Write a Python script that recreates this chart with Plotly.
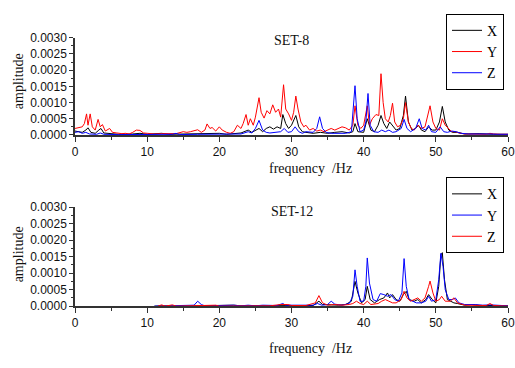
import plotly.graph_objects as go

# ---------------- data (amplitudes in units of 1e-4) ----------------
# SET-8
s8_x_f = [0, 0.5, 1.0, 1.5, 1.8, 2.2, 2.8, 3.3, 3.6, 4.0, 5, 6, 8, 9, 10, 12, 13, 15, 17, 18.5, 20, 21, 23, 24, 24.5,
          25.5, 26, 26.5, 27, 27.5, 28, 28.5, 28.8, 29.2, 29.6, 30, 30.6, 31, 31.5, 32, 33, 34, 35, 36, 37, 38, 38.5,
          38.8, 39.2, 40, 40.5, 41, 41.5, 42, 42.4, 42.8, 43.2, 43.6, 44, 44.5, 45, 45.5, 45.8, 46.2, 46.7, 47.2, 47.6,
          48, 48.5, 49, 49.5, 50, 50.5, 50.9, 51.3, 51.8, 52.3, 53, 54, 56, 58, 60]
s8_x_a = [1.2, 1.0, 0.8, 1.5, 2.2, 0.8, 0.5, 1.5, 2.0, 0.6, 0.3, 0.2, 0.3, 0.5, 0.2, 0.5, 0.2, 0.3, 0.4, 0.6, 0.5, 0.2, 0.6, 1.5, 0.8,
          2.0, 1.0, 2.0, 2.5, 1.8, 2.5, 2.0, 6.3, 3.5, 2.0, 3.0, 6.0, 2.5, 1.0, 0.8, 0.5, 0.8, 0.5, 0.8, 1.0, 0.6, 1.0,
          3.5, 1.0, 0.8, 5.0, 1.5, 1.0, 3.0, 6.0, 3.5, 2.0, 4.0, 3.0, 1.5, 2.0, 6.0, 12.0, 4.0, 1.5, 2.0, 3.0,
          1.5, 1.0, 2.5, 1.5, 1.5, 4.0, 8.8, 4.0, 1.5, 0.8, 0.8, 0.3, 0.4, 0.2, 0.2]

s8_y_f = [0, 0.5, 1.0, 1.3, 1.6, 1.8, 2.1, 2.4, 2.8, 3.2, 3.5, 3.8, 4.2, 4.8, 5.2, 5.8, 6.5, 7.0, 7.5, 8.0, 8.5, 9.0, 9.5,
          10.0, 11, 12, 13, 14, 15, 15.5, 16, 16.5, 17, 17.5, 18, 18.3, 18.7, 19, 19.5, 20, 20.4, 21, 21.5, 22, 22.5,
          23, 23.3, 23.7, 24, 24.3, 24.7, 25, 25.5, 25.8, 26.2, 26.6, 27, 27.4, 27.8, 28.2, 28.5, 28.9, 29.2, 29.6,
          30, 30.3, 30.6, 30.9, 31.3, 31.7, 32, 32.5, 33, 33.5, 34, 34.5, 35, 35.5, 36, 36.5, 37, 37.5, 38, 38.5,
          38.8, 39.2, 39.6, 40, 40.5, 40.8, 41.2, 41.7, 42.1, 42.4, 42.7, 43.0, 43.4, 43.7, 44.0, 44.3, 44.7, 45.1,
          45.5, 45.8, 46.2, 46.6, 47.0, 47.5, 48.0, 48.5, 48.9, 49.2, 49.6, 50, 50.5, 50.9, 51.3, 51.7, 52.2, 52.7,
          53.2, 54, 55, 56, 57, 57.5, 58, 59, 60]
s8_y_a = [2.0, 2.2, 2.5, 3.5, 6.5, 3.0, 6.5, 2.5, 1.5, 4.8, 2.5, 3.2, 1.2, 2.0, 0.8, 0.6, 0.4, 0.5, 0.3, 0.8, 1.5, 1.4, 0.6,
          0.5, 0.3, 0.4, 0.3, 0.4, 1.0, 0.8, 1.0, 1.2, 1.6, 0.8, 1.5, 3.4, 2.0, 2.3, 1.2, 2.5, 1.5, 0.8, 0.5, 1.0, 3.0,
          2.0, 3.5, 6.3, 3.0, 5.0, 3.0, 5.5, 11.5, 7.0, 5.2, 7.5, 6.5, 9.3, 7.0, 8.0, 5.5, 15.5, 8.0, 6.5,
          4.5, 7.0, 12.0, 8.0, 4.0, 2.5, 3.0, 1.5, 2.0, 1.2, 1.5, 1.0, 1.5, 2.0, 1.5, 2.0, 2.5, 2.2, 1.5, 3.0,
          9.0, 3.0, 2.0, 3.0, 9.0, 3.0, 5.0, 6.3, 6.0, 18.9, 10.0, 5.0, 4.0, 6.0, 9.8, 4.0, 2.5, 3.0,
          5.0, 10.0, 4.0, 2.0, 1.5, 3.0, 2.0, 2.5, 6.0, 9.0, 4.0, 2.0, 1.5, 5.0, 3.0, 2.0, 1.0, 1.0,
          0.6, 0.3, 0.3, 0.4, 0.2, 0.5, 0.3, 0.2, 0.2]

s8_z_f = [0, 0.5, 1.0, 1.5, 2.0, 3, 3.5, 4, 6, 10, 13.5, 14, 14.5, 17, 20, 23, 24, 24.5, 25, 25.5, 26, 26.5, 27, 28,
          28.5, 29, 29.5, 30, 30.5, 31, 31.5, 32, 33, 33.5, 33.9, 34.3, 34.8, 35.5, 36.5, 37.5, 38.3, 38.8, 39.1,
          39.5, 40, 40.3, 40.6, 40.9, 41.4, 42, 42.5, 43, 43.5, 44, 44.5, 45.2, 45.6, 46, 46.5, 47.2, 47.7, 48.1,
          48.6, 49, 49.4, 50, 50.6, 51.1, 51.6, 52.2, 52.8, 53.5, 54.5, 56, 57.5, 58.5, 60]
s8_z_a = [0.8, 1.0, 0.5, 0.8, 0.3, 0.2, 0.6, 0.2, 0.1, 0.1, 0.2, 0.5, 0.1, 0.2, 0.2, 0.3, 1.0, 0.6, 2.0, 4.5, 1.5, 0.8, 0.6, 0.8,
          1.0, 2.0, 0.8, 1.0, 2.5, 1.0, 0.5, 1.0, 0.8, 2.0, 5.6, 2.0, 0.8, 0.5, 0.6, 0.5, 1.0, 15.2, 5.0,
          1.0, 1.5, 4.0, 12.8, 3.0, 1.0, 0.8, 1.5, 1.0, 1.5, 0.8, 1.0, 2.0, 4.8, 2.0, 1.0, 2.0, 5.0, 2.0,
          1.5, 3.0, 1.0, 0.8, 2.5, 1.0, 0.8, 1.2, 1.0, 0.5, 0.3, 0.4, 0.3, 0.2, 0.2]

# SET-12
s12_x_f = [11, 12, 14, 18.5, 19, 21, 22, 23, 25, 27, 29, 30, 33, 33.8, 34.3, 35.5, 36.5, 37.5, 38.3, 38.8, 39.2, 39.7,
           40.2, 40.5, 40.9, 41.5, 42.2, 42.8, 43.3, 43.6, 44, 44.5, 45, 45.5, 45.9, 46.3, 47, 47.5, 48, 48.6, 49,
           49.5, 50, 50.4, 50.7, 50.9, 51.2, 51.6, 52, 52.5, 53, 54, 55, 56, 58, 60]
s12_x_a = [0.0, 0.1, 0.0, 0.2, 0.0, 0.2, 0.3, 0.1, 0.1, 0.1, 0.2, 0.1, 0.2, 1.5, 0.5, 0.4, 0.3, 0.5, 1.5, 7.5, 4.0, 1.0,
           2.0, 6.0, 2.0, 1.0, 2.0, 2.5, 4.0, 2.5, 3.5, 2.0, 1.5, 3.5, 4.5, 2.0, 1.5, 2.0, 1.0, 2.0, 3.5,
           2.0, 1.0, 6.0, 15.5, 16.2, 8.0, 2.0, 1.5, 1.0, 0.8, 0.3, 0.5, 0.2, 0.2, 0.1]

s12_y_f = [11, 15, 16.5, 17, 17.5, 18, 19.5, 21, 22, 23, 24, 25, 26, 28, 28.8, 29.2, 31, 33, 33.6, 34.2, 35, 35.5, 36,
           37, 38, 38.5, 38.8, 39.1, 39.5, 40, 40.3, 40.5, 40.8, 41.3, 41.8, 42.3, 42.8, 43.3, 43.8, 44.3, 44.8,
           45.3, 45.6, 45.9, 46.3, 46.8, 47.3, 48, 48.6, 49, 49.4, 50, 50.4, 50.7, 51, 51.3, 51.8, 52.3, 52.7,
           53.2, 54, 55.5, 56.5, 57.5, 58.5, 60]
s12_y_a = [0.0, 0.2, 0.3, 1.5, 0.5, 0.1, 0.2, 0.1, 0.3, 0.1, 0.3, 0.1, 0.3, 0.2, 0.8, 0.3, 0.2, 0.3, 0.8, 0.3, 0.5, 1.5, 0.6,
           0.3, 0.8, 3.0, 11.0, 6.0, 1.5, 1.5, 6.0, 14.6, 7.0, 2.0, 1.5, 3.8, 3.5, 3.0, 3.5, 2.0, 1.5,
           4.0, 14.4, 6.0, 2.0, 1.5, 1.0, 1.0, 1.5, 3.0, 1.5, 2.0, 8.0, 16.0, 12.0, 5.0, 2.0, 2.0, 2.5,
           1.0, 0.5, 0.5, 0.3, 0.4, 0.2, 0.1]

s12_z_f = [11.5, 12, 12.5, 13.5, 14, 18.5, 19.5, 20, 27, 28.5, 29.5, 30, 31, 32, 33.3, 33.8, 34.3, 35, 36, 37, 38, 38.5,
           39, 39.5, 40, 40.5, 41, 42, 42.5, 43, 43.5, 44, 44.5, 45.2, 45.6, 46, 46.5, 47, 47.5, 48, 48.5, 49,
           49.2, 49.6, 50, 50.5, 50.8, 51.3, 52, 52.5, 53, 54, 55, 56, 57, 57.5, 58, 59, 60]
s12_z_a = [0.0, 0.4, 0.0, 0.4, 0.0, 0.3, 0.3, 0.0, 0.1, 0.5, 0.5, 0.2, 0.1, 0.2, 1.0, 3.2, 1.0, 0.3, 0.5, 0.3, 0.5, 0.8,
           1.5, 0.8, 0.5, 1.5, 0.5, 0.8, 1.5, 2.0, 1.5, 1.0, 1.0, 2.0, 4.5, 2.5, 1.5, 2.0, 2.5, 1.5, 2.5, 6.0,
           7.6, 4.0, 1.5, 2.0, 3.0, 1.5, 1.5, 2.5, 1.0, 0.3, 0.2, 0.3, 0.2, 0.8, 0.2, 0.1, 0.0]

y_ticks = [0.0, 0.0005, 0.0010, 0.0015, 0.0020, 0.0025, 0.0030]
x_ticks = [0, 10, 20, 30, 40, 50, 60]
SCALE = 1e-4

# ---------------- layout helpers ----------------
W, H = 515, 368
L, R = 75, 6
def px_x(p):
    return (p - L) / (W - L - R)
def px_y(p):
    return 1 - p / H

SERIF = "Liberation Serif, Times New Roman, serif"
SANS = "Liberation Sans, Arial, sans-serif"

fig = go.Figure()

top = [("X", s8_x_f, s8_x_a, "#000000"), ("Y", s8_y_f, s8_y_a, "#ff0000"), ("Z", s8_z_f, s8_z_a, "#0000ff")]
bot = [("X", s12_x_f, s12_x_a, "#000000"), ("Y", s12_y_f, s12_y_a, "#0000ff"), ("Z", s12_z_f, s12_z_a, "#ff0000")]

for name, f, a, c in top:
    fig.add_trace(go.Scatter(x=f, y=[v * SCALE for v in a], mode="lines", name=name,
                             line=dict(color=c, width=1), xaxis="x", yaxis="y", legend="legend"))
for name, f, a, c in bot:
    fig.add_trace(go.Scatter(x=f, y=[v * SCALE for v in a], mode="lines", name=name,
                             line=dict(color=c, width=1), xaxis="x2", yaxis="y2", legend="legend2"))

axis_common = dict(showgrid=False, zeroline=False, showline=True, linecolor="#333333", linewidth=1.5,
                   ticks="outside", tickcolor="#333333", tickwidth=1, ticklen=5,
                   ticklabeloverflow="allow",
                   tickfont=dict(family=SANS, size=12, color="#111111"))
xax = dict(axis_common, range=[0, 60], tickvals=x_ticks, ticktext=[str(t) for t in x_ticks],
           minor=dict(dtick=5, ticks="outside", ticklen=3, tickcolor="#333333"))
yax = dict(axis_common, range=[0, 0.003], tickvals=y_ticks, ticktext=[f"{t:.4f}" for t in y_ticks],
           ticklen=4, minor=dict(dtick=0.00025, tick0=0, ticks="outside", ticklen=2, tickcolor="#333333"))

fig.update_layout(
    width=W, height=H, margin=dict(l=L, r=R, t=0, b=0),
    paper_bgcolor="white", plot_bgcolor="white",
    xaxis=dict(xax, anchor="y", domain=[0, 1]),
    yaxis=dict(yax, anchor="x", domain=[px_y(133), px_y(32)]),
    xaxis2=dict(xax, anchor="y2", domain=[0, 1]),
    yaxis2=dict(yax, anchor="x2", domain=[px_y(311), px_y(208)]),
    legend=dict(x=px_x(505), y=px_y(7), xanchor="right", yanchor="top", bgcolor="white",
                bordercolor="#000000", borderwidth=1, font=dict(family=SERIF, size=14, color="#000"),
                tracegroupgap=0, itemwidth=30),
    legend2=dict(x=px_x(505), y=px_y(177), xanchor="right", yanchor="top", bgcolor="white",
                 bordercolor="#000000", borderwidth=1, font=dict(family=SERIF, size=14, color="#000"),
                 tracegroupgap=0, itemwidth=30),
    showlegend=True,
)

ann = [
    ("SET-8", 292, 35, 0),
    ("SET-12", 292, 213, 0),
    ("frequency  /Hz", 311, 168, 0),
    ("frequency  /Hz", 311, 355, 0),
    ("amplitude", 18, 77, -90),
    ("amplitude", 18, 257, -90),
]
for text, x, y, ang in ann:
    fig.add_annotation(text=text, x=px_x(x), y=px_y(y), xref="paper", yref="paper",
                       xanchor="center", yanchor="middle", showarrow=False, textangle=ang,
                       font=dict(family=SERIF, size=14, color="#111111"))

fig.write_html("out.html")
